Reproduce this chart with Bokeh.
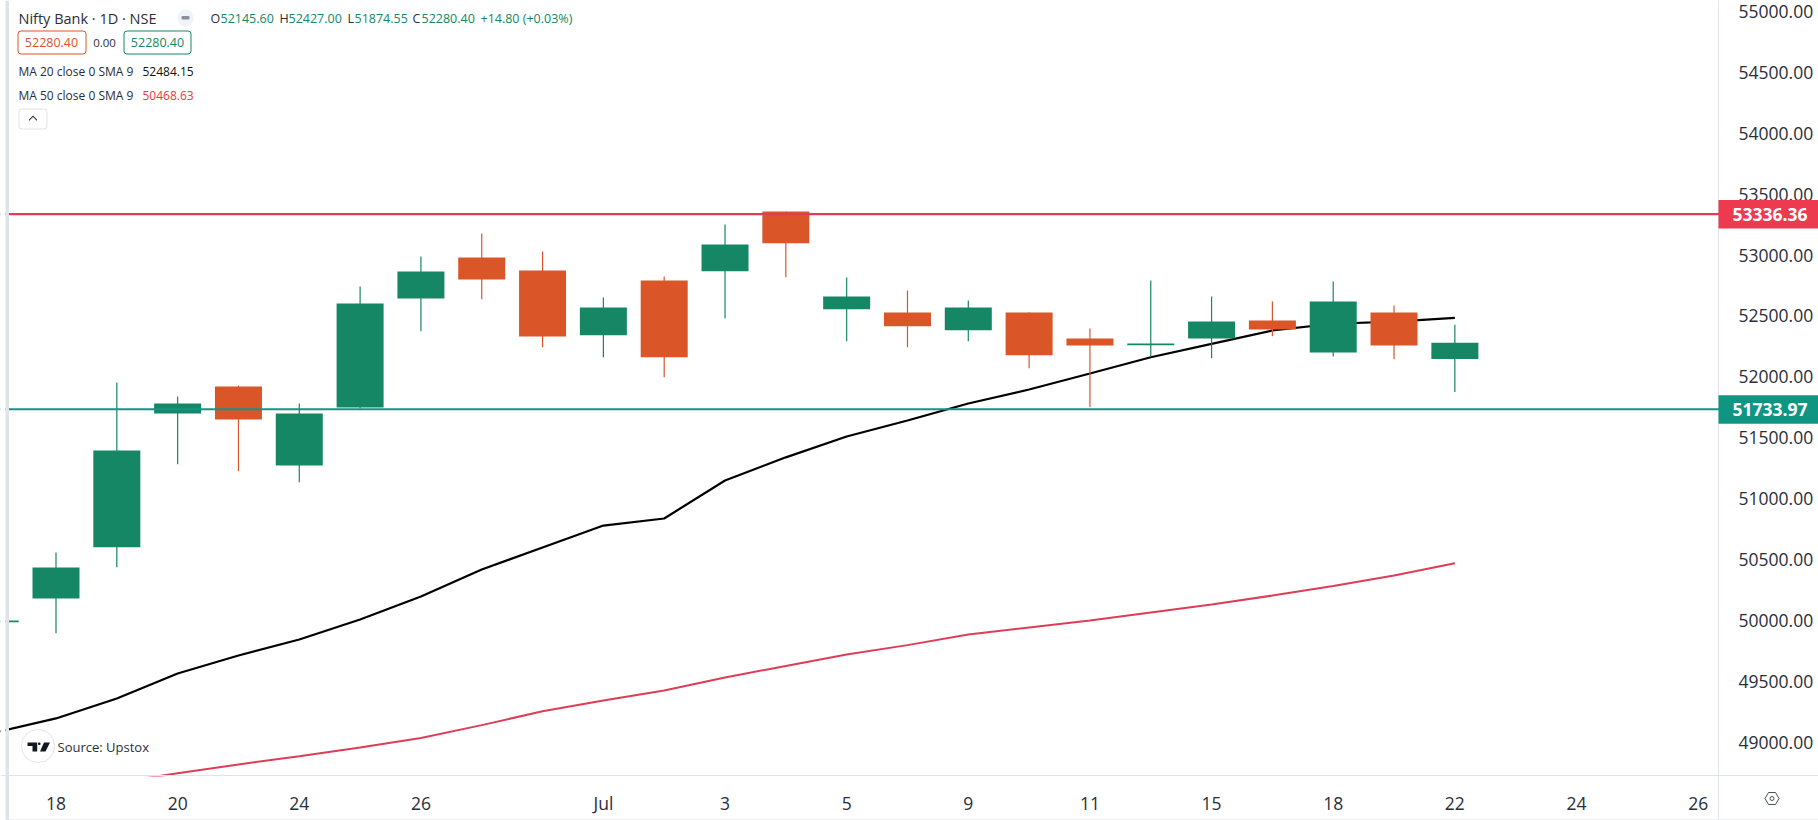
from bokeh.plotting import figure
from bokeh.embed import file_html
from bokeh.resources import INLINE
from bokeh.models import (ColumnDataSource, FixedTicker, Range1d, Span, Label,
                          BoxAnnotation, PolyAnnotation, NumeralTickFormatter)

# ---- data ----
bar_index = list(range(-1, 24))
opens = [49985, 50180, 50601, 51699, 51921, 51272, 51748, 52643, 52980, 52873, 52342, 52791, 52867, 53358, 52555, 52528, 52383, 52528, 52315, 52260, 52315, 52463, 52200, 52528, 52145.60]
highs = [50005, 50558, 51954, 51839, 51929, 51781, 52742, 52988, 53177, 53029, 52652, 52824, 53251, 53358, 52816, 52709, 52627, 52530, 52397, 52791, 52660, 52619, 52783, 52586, 52427.00]
lows = [49980, 49895, 50437, 51283, 51225, 51135, 51740, 52375, 52638, 52243, 52161, 51997, 52482, 52818, 52293, 52243, 52293, 52071, 51751, 52167, 52153, 52334, 52167, 52145, 51874.55]
closes = [50000, 50434, 51395, 51781, 51650, 51699, 52602, 52865, 52799, 52331, 52569, 52161, 53087, 53097, 52660, 52416, 52569, 52178, 52257, 52274, 52454, 52389, 52619, 52257, 52280.40]
ma20_index = list(range(-1, 24))
ma20 = [49080, 49195, 49359, 49564, 49712, 49843, 50007, 50196, 50418, 50599, 50779, 50837, 51149, 51339, 51510, 51641, 51781, 51896, 52027, 52161, 52271, 52381, 52436, 52454, 52484.15]
ma50_index = list(range(1, 24))
ma50 = [48669, 48745, 48817, 48885, 48956, 49035, 49140, 49254, 49342, 49424, 49531, 49626, 49720, 49797, 49884, 49942, 49999, 50065, 50131, 50204, 50283, 50369, 50468.63]
resistance = 53336.36
support = 51733.97
price_ticks = [49000, 49500, 50000, 50500, 51000, 51500, 52000, 52500, 53000, 53500, 54000, 54500, 55000]
date_tick_pos = [0, 2, 4, 6, 9, 11, 13, 15, 17, 19, 21, 23, 25, 27]
date_tick_labels = ["18", "20", "24", "26", "Jul", "3", "5", "9", "11", "15", "18", "22", "24", "26"]

# ---- style ----
GREEN = "#158765"
ORANGE = "#DA5629"
RED = "#DD3D57"
TEAL = "#149584"
GRID = "#E0E3E8"
TEXT = "#2A2E39"
FONT = "Open Sans"

W, H = 1818, 820
AX_X, AX_Y = 1718, 775
PX_PER_BAR = 60.82
X0 = 55.5
PX_PER_UNIT = 0.12178
Y55 = 11

p = figure(width=W, height=H, output_backend="svg", toolbar_location=None,
           x_range=Range1d((0 - X0) / PX_PER_BAR, (W - X0) / PX_PER_BAR),
           y_range=Range1d(55000 - (H - Y55) / PX_PER_UNIT, 55000 + Y55 / PX_PER_UNIT),
           min_border_left=0, min_border_top=0, min_border_right=0, min_border_bottom=0,
           y_axis_location="right", outline_line_color=None, background_fill_color="white")
p.styles = {"position": "absolute", "left": "0px", "top": "0px"}
p.grid.visible = False

p.xaxis.ticker = FixedTicker(ticks=date_tick_pos)
p.xaxis.major_label_overrides = {k: v for k, v in zip(date_tick_pos, date_tick_labels)}
p.yaxis.ticker = FixedTicker(ticks=price_ticks)
p.yaxis.formatter = NumeralTickFormatter(format="0.00")
p.yaxis.fixed_location = (AX_X - X0) / PX_PER_BAR
p.xaxis.fixed_location = 55000 - (AX_Y - Y55) / PX_PER_UNIT
for ax in (p.xaxis, p.yaxis):
    ax.axis_line_color = GRID
    ax.axis_line_width = 1
    ax.major_tick_line_color = None
    ax.minor_tick_line_color = None
    ax.major_label_text_font = FONT
    ax.major_label_text_color = TEXT
    ax.major_label_text_font_size = "17.5px"
p.xaxis.major_label_standoff = 9
p.yaxis.major_label_standoff = 14
p.xaxis.level = "overlay"

up = [c >= o for o, c in zip(opens, closes)]
colors = [GREEN if u else ORANGE for u in up]
src = ColumnDataSource(dict(x=bar_index, o=opens, h=highs, l=lows, c=closes, color=colors))

p.add_layout(Span(location=resistance, dimension="width", line_color=RED, line_width=2.2))
p.add_layout(Span(location=support, dimension="width", line_color=TEAL, line_width=2.2))
p.line(ma50_index, ma50, line_color=RED, line_width=2)
p.line(ma20_index, ma20, line_color="black", line_width=2.2)
p.segment("x", "h", "x", "l", source=src, line_color="color", line_width=1.2)
p.vbar("x", top="o", bottom="c", width=47 / PX_PER_BAR, source=src, fill_color="color", line_color=None)


def box(x0, x1, y0, y1, fill=None, line=None, radius=0, lw=1):
    p.add_layout(BoxAnnotation(left=x0, right=x1, top=H - y0, bottom=H - y1,
                               left_units="screen", right_units="screen", top_units="screen", bottom_units="screen",
                               fill_color=fill, fill_alpha=1 if fill else 0,
                               line_color=line, line_alpha=1 if line else 0, line_width=lw,
                               border_radius=radius))


def poly(xs, ys, fill=TEXT, line=None, lw=1):
    p.add_layout(PolyAnnotation(xs=xs, ys=[H - y for y in ys], xs_units="screen", ys_units="screen",
                                fill_color=fill, fill_alpha=1, line_color=line, line_alpha=1, line_width=lw))


def label(x, y, text, color=TEXT, size=12.5, align="left", style="normal"):
    p.add_layout(Label(x=x, y=H - y, text=text, x_units="screen", y_units="screen",
                       text_color=color, text_font=FONT, text_font_size=f"{size}px", text_align=align,
                       text_baseline="middle", text_font_style=style))


# left edge of the widget and area under the time axis
box(0, 5, 0, H, fill="white")
box(5, 8.5, 0, H, fill=GRID)
box(9, AX_X - 1, AX_Y + 1, H - 1, fill="white")
box(8, W, 819, 820, fill=GRID)

# price tags
for val, col in ((resistance, "#EE3A4F"), (support, "#0E9683")):
    tag_y = Y55 + (55000 - val) * PX_PER_UNIT
    box(AX_X, W, tag_y - 14, tag_y + 14.5, fill=col)
    p.add_layout(Label(x=AX_X + 14, y=val, y_units="data", x_units="screen", text=f"{val:.2f}",
                       text_color="white", text_font=FONT, text_font_size="17.5px", text_baseline="middle",
                       text_font_style="bold"))

# header
label(18, 18, "Nifty Bank · 1D · NSE", size=14.5)
box(177, 193, 9, 26, fill="#F0F3FA", radius=8)
box(181, 189, 15.5, 19, fill="#8A8E99", radius=1)
x_parts = [(210, "O", TEXT), (220, "52145.60", GREEN), (279, "H", TEXT), (288, "52427.00", GREEN),
           (347, "L", TEXT), (354, "51874.55", GREEN), (412, "C", TEXT), (421, "52280.40", GREEN),
           (480, "+14.80 (+0.03%)", GREEN)]
for x, t, c in x_parts:
    label(x, 18, t, c)
box(17.5, 85.5, 30.5, 53.5, line=ORANGE, radius=3)
label(51, 42, "52280.40", ORANGE, align="center")
label(104, 42, "0.00", TEXT, align="center", size=11.5)
box(123.5, 190.5, 30.5, 53.5, line=GREEN, radius=3)
label(157, 42, "52280.40", GREEN, align="center")
label(18, 71, "MA 20 close 0 SMA 9", size=12)
label(142, 71, "52484.15", "#111111", size=12)
label(18, 95, "MA 50 close 0 SMA 9", size=12)
label(142, 95, "50468.63", "#F23645", size=12)
box(18.5, 46.5, 108.5, 128.5, fill="white", line=GRID, radius=3)
poly([28.5, 32.5, 36.5, 36.5, 32.5, 28.5], [120.5, 116.5, 120.5, 119, 115, 119], fill=TEXT)

# source badge
box(21, 54, 729, 762, fill="white", line=GRID, radius=16)
poly([27, 36.7, 36.7, 32, 32, 27], [742, 742, 751, 751, 745.5, 745.5], fill="#131722")
box(37.5, 40, 742, 744.5, fill="#131722", radius=1)
poly([43.5, 49.5, 45, 39.5], [742, 742, 751, 751], fill="#131722")
label(57, 746, "Source: Upstox", TEXT, size=13)

# settings icon
cx, cy = 1771.5, 798
poly([cx - 7, cx - 3.5, cx + 3.5, cx + 7, cx + 3.5, cx - 3.5],
     [cy, cy - 6, cy - 6, cy, cy + 6, cy + 6], fill="white", line="#4A4E59")
box(cx - 2, cx + 2, cy - 2, cy + 2, fill="white", line="#4A4E59", radius=2)

open("out.html", "w").write(file_html(p, INLINE))
